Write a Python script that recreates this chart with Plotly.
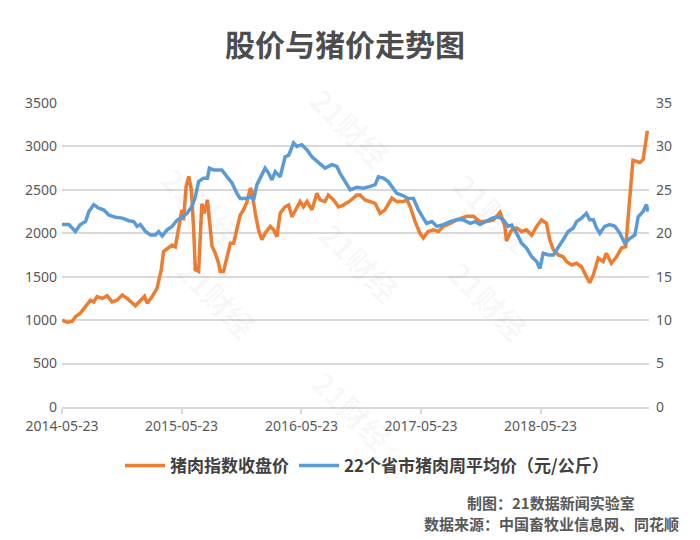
import plotly.graph_objects as go

# 猪肉指数收盘价 (left axis)
pork_index_dates = [
    "2014-05-23", "2014-06-08", "2014-06-23", "2014-07-03", "2014-07-18", "2014-08-03",
    "2014-08-18", "2014-08-28", "2014-09-07", "2014-09-23", "2014-10-08", "2014-10-23",
    "2014-11-07", "2014-11-23", "2014-12-08", "2015-01-02", "2015-01-17", "2015-01-30",
    "2015-02-07", "2015-02-22", "2015-03-09", "2015-03-22", "2015-03-29", "2015-04-14",
    "2015-04-24", "2015-05-04", "2015-05-14", "2015-05-24", "2015-05-29", "2015-06-06",
    "2015-06-14", "2015-06-22", "2015-06-29", "2015-07-04", "2015-07-14", "2015-07-24",
    "2015-07-31", "2015-08-10", "2015-08-24", "2015-09-03", "2015-09-13", "2015-09-18",
    "2015-09-28", "2015-10-09", "2015-10-19", "2015-10-29", "2015-11-08", "2015-11-18",
    "2015-11-28", "2015-12-09", "2015-12-19", "2015-12-24", "2016-01-03", "2016-01-13",
    "2016-01-23", "2016-02-02", "2016-02-18", "2016-02-28", "2016-03-09", "2016-03-19",
    "2016-04-03", "2016-04-14", "2016-04-24", "2016-05-09", "2016-05-19", "2016-05-29",
    "2016-06-09", "2016-06-24", "2016-07-09", "2016-07-19", "2016-08-03", "2016-08-13",
    "2016-08-29", "2016-09-13", "2016-09-28", "2016-10-19", "2016-11-08", "2016-11-18",
    "2016-12-03", "2016-12-19", "2017-01-03", "2017-01-18", "2017-02-02", "2017-02-23",
    "2017-03-10", "2017-03-30", "2017-04-10", "2017-04-20", "2017-05-05", "2017-05-20",
    "2017-05-30", "2017-06-14", "2017-06-30", "2017-07-15", "2017-07-30", "2017-08-20",
    "2017-09-09", "2017-10-09", "2017-10-30", "2017-11-19", "2017-12-09", "2017-12-30",
    "2018-01-19", "2018-02-03", "2018-02-08", "2018-02-24", "2018-03-11", "2018-03-26",
    "2018-04-10", "2018-04-26", "2018-05-11", "2018-05-26", "2018-06-10", "2018-06-20",
    "2018-07-01", "2018-07-16", "2018-07-31", "2018-08-10", "2018-08-26", "2018-09-10",
    "2018-09-25", "2018-10-10", "2018-10-20", "2018-10-31", "2018-11-15", "2018-11-30",
    "2018-12-10", "2018-12-25", "2019-01-10", "2019-01-25", "2019-02-07", "2019-02-18",
    "2019-03-01", "2019-03-22", "2019-04-01", "2019-04-14",
]
pork_index_values = [
    1000, 975, 985, 1040, 1080, 1155,
    1230, 1210, 1270, 1250, 1280, 1210,
    1230, 1290, 1250, 1165, 1230, 1275,
    1195, 1270, 1365, 1580, 1790, 1830,
    1865, 1845, 2080, 2270, 2150, 2540,
    2655, 2500, 2040, 1580, 1560, 2340,
    2230, 2385, 1850, 1770, 1655, 1560,
    1560, 1730, 1885, 1885, 2040, 2210,
    2270, 2365, 2520, 2480, 2230, 2040,
    1925, 2000, 2080, 2040, 1960, 2230,
    2305, 2325, 2190, 2305, 2365, 2305,
    2365, 2270, 2460, 2385, 2365, 2440,
    2385, 2305, 2325, 2375, 2440, 2440,
    2385, 2365, 2345, 2230, 2270, 2405,
    2365, 2365, 2385, 2305, 2135, 2000,
    1945, 2020, 2040, 2020, 2080, 2115,
    2155, 2195, 2195, 2135, 2135, 2155,
    2240, 2080, 1910, 2040, 2060, 2020,
    2040, 1980, 2080, 2155, 2115, 1925,
    1810, 1750, 1730, 1675, 1635, 1655,
    1615, 1500, 1430, 1520, 1715, 1675,
    1770, 1655, 1730, 1830, 1845, 2350,
    2840, 2815, 2850, 3180,
]

# 22个省市猪肉周平均价（元/公斤） (right axis)
hog_price_dates = [
    "2014-05-23", "2014-06-13", "2014-07-03", "2014-07-18", "2014-08-03", "2014-08-13",
    "2014-08-28", "2014-09-12", "2014-09-27", "2014-10-13", "2014-11-02", "2014-11-23",
    "2014-12-13", "2014-12-28", "2015-01-07", "2015-01-17", "2015-02-02", "2015-02-17",
    "2015-03-04", "2015-03-14", "2015-03-25", "2015-04-09", "2015-04-24", "2015-05-09",
    "2015-05-24", "2015-06-09", "2015-06-24", "2015-07-04", "2015-07-14", "2015-07-29",
    "2015-08-10", "2015-08-16", "2015-08-29", "2015-09-08", "2015-09-23", "2015-10-09",
    "2015-10-24", "2015-11-08", "2015-11-18", "2015-12-03", "2015-12-19", "2015-12-29",
    "2016-01-08", "2016-01-18", "2016-02-02", "2016-02-13", "2016-02-23", "2016-03-04",
    "2016-03-19", "2016-04-03", "2016-04-14", "2016-04-29", "2016-05-09", "2016-05-24",
    "2016-06-09", "2016-06-24", "2016-07-14", "2016-08-03", "2016-08-24", "2016-09-08",
    "2016-09-18", "2016-10-03", "2016-10-19", "2016-11-08", "2016-11-28", "2016-12-19",
    "2017-01-03", "2017-01-13", "2017-01-28", "2017-02-12", "2017-02-23", "2017-03-10",
    "2017-03-25", "2017-04-14", "2017-04-30", "2017-05-15", "2017-05-30", "2017-06-09",
    "2017-06-25", "2017-07-10", "2017-07-30", "2017-08-20", "2017-09-09", "2017-09-29",
    "2017-10-20", "2017-11-04", "2017-11-19", "2017-12-09", "2017-12-26", "2018-01-14",
    "2018-01-29", "2018-02-13", "2018-02-24", "2018-03-11", "2018-03-26", "2018-04-10",
    "2018-04-26", "2018-05-11", "2018-05-21", "2018-05-31", "2018-06-16", "2018-07-01",
    "2018-07-16", "2018-07-31", "2018-08-15", "2018-08-31", "2018-09-10", "2018-09-25",
    "2018-10-10", "2018-10-20", "2018-10-31", "2018-11-10", "2018-11-20", "2018-12-05",
    "2018-12-20", "2019-01-05", "2019-01-20", "2019-02-04", "2019-02-19", "2019-03-07",
    "2019-03-17", "2019-04-01", "2019-04-11", "2019-04-16",
]
hog_price_values = [
    21.0, 21.0, 20.2, 21.0, 21.35, 22.5,
    23.3, 22.9, 22.7, 22.1, 21.85, 21.75,
    21.45, 21.35, 20.8, 21.0, 20.2, 19.8,
    19.8, 20.2, 19.7, 20.4, 20.8, 21.5,
    21.85, 22.3, 23.1, 24.2, 25.95, 26.35,
    26.35, 27.5, 27.3, 27.3, 27.3, 26.5,
    25.8, 24.6, 24.0, 24.0, 24.2, 23.85,
    25.6, 26.35, 27.5, 26.9, 26.15, 27.1,
    26.5, 28.8, 29.0, 30.4, 30.0, 30.2,
    29.6, 28.8, 28.1, 27.5, 27.9, 27.7,
    26.9, 25.95, 25.0, 25.3, 25.2, 25.4,
    25.6, 26.5, 26.35, 25.95, 25.4, 24.6,
    24.4, 24.0, 24.0, 22.7, 21.75, 21.15,
    21.35, 20.8, 21.0, 21.35, 21.55, 21.55,
    21.15, 21.35, 21.0, 21.35, 21.75, 21.9,
    21.55, 20.8, 20.95, 20.0, 18.85, 18.3,
    17.3, 16.75, 15.95, 17.7, 17.5, 17.5,
    18.3, 19.25, 20.2, 20.6, 21.35, 21.75,
    22.3, 21.55, 21.55, 20.6, 20.0, 20.8,
    21.0, 20.8, 20.0, 18.85, 19.4, 19.8,
    21.9, 22.5, 23.3, 22.5,
]

x_tick_labels = ["2014-05-23", "2015-05-23", "2016-05-23", "2017-05-23", "2018-05-23"]
left_ticks = [0, 500, 1000, 1500, 2000, 2500, 3000, 3500]
right_ticks = [0, 5, 10, 15, 20, 25, 30, 35]
x_range = ["2014-05-23", "2019-04-19"]

title_text = "股价与猪价走势图"
series_names = ["猪肉指数收盘价", "22个省市猪肉周平均价（元/公斤）"]
footer_lines = ["制图：21数据新闻实验室", "数据来源：中国畜牧业信息网、同花顺"]
watermark_text = "21财经"

ORANGE = "#ED7D31"
BLUE = "#5B9BD5"
GRID = "#D9D9D9"
TXT = "#595959"
CJK = "Noto Sans CJK SC"

# plot area in pixels
PL, PR, PT, PB = 62, 649, 103, 407
PW, PH = PR - PL, PB - PT

fig = go.Figure()
fig.add_trace(go.Scatter(
    x=pork_index_dates, y=pork_index_values, name=series_names[0],
    mode="lines", line=dict(color=ORANGE, width=3.5), yaxis="y",
))
fig.add_trace(go.Scatter(
    x=hog_price_dates, y=hog_price_values, name=series_names[1],
    mode="lines", line=dict(color=BLUE, width=3.5), yaxis="y2",
))

annotations = []
# faint watermarks
for (wx, wy) in [(150, 155), (545, 160), (165, 350), (540, 352), (360, 262),
                 (352, 462), (350, 75)]:
    annotations.append(dict(
        xref="paper", yref="paper",
        x=(wx - PL) / PW, y=(PB - wy) / PH,
        text=watermark_text, showarrow=False, textangle=45,
        font=dict(family=CJK, size=30, color="rgba(0,0,0,0.035)", weight="bold"),
    ))

for i, line in enumerate(footer_lines):
    annotations.append(dict(
        xref="paper", yref="paper",
        x=(551 - PL) / PW, y=(PB - (502 + i * 21)) / PH,
        xanchor="center", yanchor="middle",
        text=line, showarrow=False,
        font=dict(family=CJK, size=15, color=TXT, weight="bold"),
    ))

fig.update_layout(
    width=700, height=540,
    paper_bgcolor="white", plot_bgcolor="white",
    margin=dict(l=PL, r=700 - PR, t=PT, b=540 - PB, autoexpand=False),
    title=dict(
        text=title_text, x=345 / 700, xref="container", xanchor="center",
        y=(540 - 45) / 540, yref="container", yanchor="middle",
        font=dict(family=CJK, size=30, color="#4D4D4D", weight="bold"),
    ),
    xaxis=dict(
        type="date", range=x_range,
        tickvals=x_tick_labels, ticktext=x_tick_labels,
        showgrid=False, showline=True, linecolor=GRID, linewidth=1.5,
        ticks="outside", ticklen=5, tickcolor=GRID, tickwidth=1.5,
        tickfont=dict(family="Noto Sans", size=14, color=TXT),
        zeroline=False,
    ),
    yaxis=dict(
        range=[0, 3500], tickvals=left_ticks,
        showgrid=True, gridcolor=GRID, gridwidth=1.5,
        zeroline=False, showline=False,
        tickfont=dict(family="Noto Sans", size=14, color=TXT),
        ticklabelstandoff=4,
    ),
    yaxis2=dict(
        range=[0, 35], tickvals=right_ticks,
        overlaying="y", side="right", showgrid=False,
        zeroline=False, showline=False,
        tickfont=dict(family="Noto Sans", size=14, color=TXT),
        ticklabelstandoff=6,
    ),
    legend=dict(
        orientation="h", x=(120 - PL) / PW, y=(PB - 466) / PH,
        xanchor="left", yanchor="middle",
        font=dict(family=CJK, size=17, color="#404040", weight="bold"),
        traceorder="normal", itemwidth=40,
    ),
    showlegend=True,
    annotations=annotations,
)

fig.write_html(
    "out.html",
    config={"displayModeBar": False},
    post_script="document.body.style.margin='0';",
)
